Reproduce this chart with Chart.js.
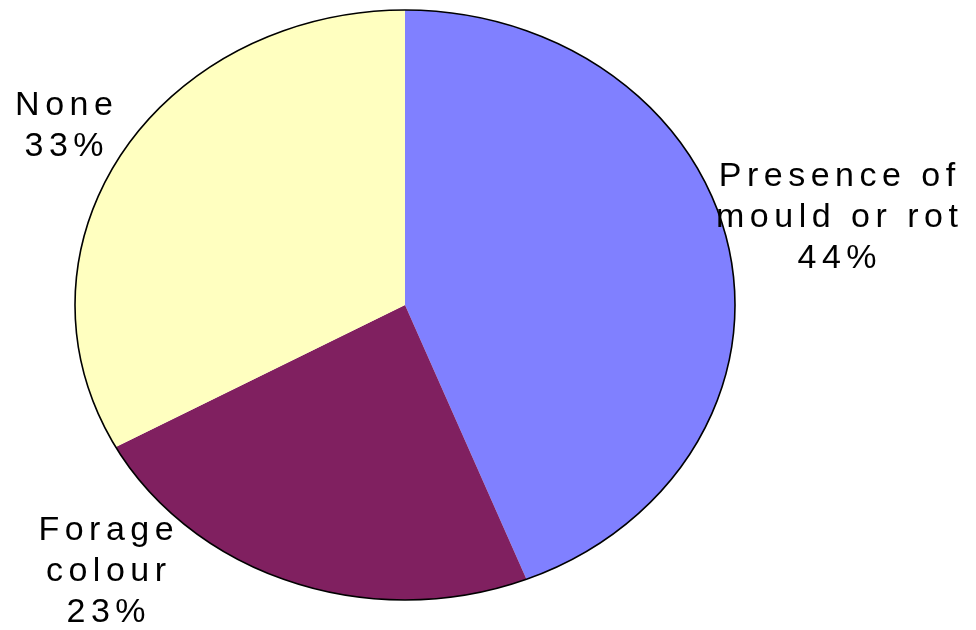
<!DOCTYPE html>
<html>
<head>
<meta charset="utf-8">
<script src="https://cdn.jsdelivr.net/npm/chart.js@4.4.0/dist/chart.umd.min.js"></script>
<style>
  html, body { margin: 0; padding: 0; background: #fff; }
  #wrap { width: 976px; height: 630px; }
</style>
</head>
<body>
<div id="wrap"><canvas id="myChart"></canvas></div>
<script>
const categorias = ['Presence of mould or rot', 'Forage colour', 'None']
const valores = [44, 23, 33]
const colores = ['#8080FF', '#802060', '#FFFFC0']

// label lines and where each block sits (centre x, first baseline)
const etiquetas = [
    ['Presence of', 'mould or rot', valores[0] + '%'],
    ['Forage', 'colour', valores[1] + '%'],
    ['None', valores[2] + '%']
]
const posEtiquetas = [[837, 186], [106, 540], [64, 115]]

// horizontal stretch so the pie comes out as an ellipse
const estirar = 330 / 295
const espaciado = 5.5

function centroPie(chart) {
    const arc = chart.getDatasetMeta(0).data[0]
    return { x: arc.x, y: arc.y, r: arc.outerRadius }
}

const elipse = {
    id: 'elipse',
    beforeDatasetsDraw(chart) {
        const c = centroPie(chart)
        const ctx = chart.ctx
        ctx.save()
        ctx.translate(c.x, c.y)
        ctx.scale(estirar, 1)
        ctx.translate(-c.x, -c.y)
    },
    afterDatasetsDraw(chart) {
        const c = centroPie(chart)
        const ctx = chart.ctx
        // outline only round the outside, no lines between slices
        ctx.beginPath()
        ctx.arc(c.x, c.y, c.r, 0, Math.PI * 2)
        ctx.restore()
        ctx.strokeStyle = '#000'
        ctx.lineWidth = 1.6
        ctx.stroke()

        ctx.save()
        ctx.fillStyle = '#000'
        ctx.font = '34px "Liberation Sans", Arial, sans-serif'
        ctx.letterSpacing = espaciado + 'px'
        ctx.textAlign = 'center'
        ctx.textBaseline = 'alphabetic'
        etiquetas.forEach((lineas, i) => {
            const [x, y] = posEtiquetas[i]
            lineas.forEach((t, j) => ctx.fillText(t, x + espaciado / 2, y + j * 41))
        })
        ctx.restore()
    }
}

const ctx1 = document.getElementById('myChart')

const myChart = new Chart(ctx1, {
    type: 'pie',
    data: {
        labels: categorias,
        datasets: [{
            data: valores,
            backgroundColor: colores,
            borderWidth: 0
        }]
    },
    options: {
        responsive: true,
        maintainAspectRatio: false,
        animation: false,
        layout: {
            padding: { left: 110, right: 276, top: 10, bottom: 30 }
        },
        plugins: {
            legend: { display: false },
            tooltip: { enabled: false }
        }
    },
    plugins: [elipse]
})
</script>
</body>
</html>
